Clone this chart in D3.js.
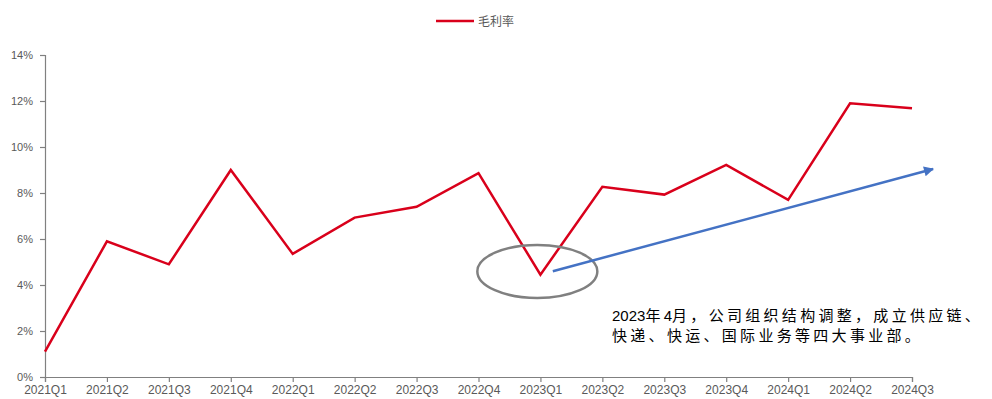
<!DOCTYPE html>
<html>
<head>
<meta charset="utf-8">
<script src="https://cdn.jsdelivr.net/npm/d3@7/dist/d3.min.js"></script>
<style>
  body { margin: 0; background: #fff; }
  svg text { font-family: "Liberation Sans", Arial, sans-serif; }
</style>
</head>
<body>
<div id="chart"></div>
<script>
//------------------------------------------------------------------------ Data
var quarters = ["2021Q1","2021Q2","2021Q3","2021Q4","2022Q1","2022Q2","2022Q3","2022Q4",
                "2023Q1","2023Q2","2023Q3","2023Q4","2024Q1","2024Q2","2024Q3"];
var grossMargin = [1.1, 5.9, 4.9, 9.0, 5.35, 6.93, 7.4, 8.86, 4.45, 8.27, 7.93, 9.22, 7.7, 11.9, 11.68];
var yTicks = [0, 2, 4, 6, 8, 10, 12, 14];
var seriesName = "毛利率";
var noteLines = ["2023年4月，公司组织结构调整，成立供应链、", "快递、快运、国际业务等四大事业部。"];

//------------------------------------------------------------------------ Layout
var W = 992, H = 399;
var margin = {top: 55, right: 80, bottom: 22, left: 45},
    width = 912 - margin.left,
    height = 377 - margin.top;

var colLine = "#d9001b";
var colArrow = "#4472c4";
var colAxis = "#808080";
var colText = "#595959";

var svg = d3.select("#chart").append("svg")
  .attr("width", W)
  .attr("height", H);

var g = svg.append("g")
  .attr("transform", "translate(" + margin.left + "," + margin.top + ")");

var x = d3.scaleLinear().domain([0, quarters.length - 1]).range([0, width]);
var y = d3.scaleLinear().domain([0, 14]).range([height, 0]);

//------------------------------------------------------------------------ Axes
var yAxis = g.append("g")
  .call(d3.axisLeft(y).tickValues(yTicks).tickSize(5).tickPadding(7)
    .tickFormat(function(d){ return d + "%"; }));
yAxis.selectAll("text").attr("font-size", "11px").attr("fill", colText);

var xAxis = g.append("g")
  .attr("transform", "translate(0," + height + ")")
  .call(d3.axisBottom(x).tickValues(d3.range(quarters.length)).tickSize(5).tickPadding(3)
    .tickFormat(function(d){ return quarters[d]; }));
xAxis.selectAll("text").attr("font-size", "12px").attr("fill", colText);

[yAxis, xAxis].forEach(function(a){
  a.select(".domain").attr("stroke", colAxis).attr("stroke-width", 1.2);
  a.selectAll(".tick line").attr("stroke", colAxis).attr("stroke-width", 1.2);
});

//------------------------------------------------------------------------ Line
var line = d3.line()
  .x(function(d, i){ return x(i); })
  .y(function(d){ return y(d); });

g.append("path")
  .datum(grossMargin)
  .attr("fill", "none")
  .attr("stroke", colLine)
  .attr("stroke-width", 2.5)
  .attr("stroke-linejoin", "miter")
  .attr("d", line);

//------------------------------------------------------------------------ Annotation
// ellipse round the 2023Q1 dip
g.append("ellipse")
  .attr("cx", x(7.95))
  .attr("cy", y(4.59))
  .attr("rx", 60)
  .attr("ry", 26.5)
  .attr("fill", "none")
  .attr("stroke", "#808080")
  .attr("stroke-width", 2.5);

// trend arrow
svg.append("defs").append("marker")
  .attr("id", "arrowhead")
  .attr("viewBox", "0 0 10 10")
  .attr("refX", 9).attr("refY", 5)
  .attr("markerWidth", 4.5).attr("markerHeight", 4)
  .attr("orient", "auto")
  .append("path")
  .attr("d", "M0,0 L10,5 L0,10 z")
  .attr("fill", colArrow);

g.append("line")
  .attr("x1", x(8.2)).attr("y1", y(4.6))
  .attr("x2", x(14.34)).attr("y2", y(9.04))
  .attr("stroke", colArrow)
  .attr("stroke-width", 2.5)
  .attr("marker-end", "url(#arrowhead)");

// note text: digits tight, CJK chars spaced wide
var note = svg.append("text")
  .attr("font-size", "15px")
  .attr("fill", "#000");
noteLines.forEach(function(t, i){
  var parts = t.split(/(\d+)/).filter(function(s){ return s.length; });
  parts.forEach(function(p, j){
    var isNum = /^\d+$/.test(p);
    var ts = note.append("tspan").text(p)
      .attr("letter-spacing", isNum ? "0px" : "3.3px")
      .style("font-family", isNum ? "'Liberation Sans', Arial, sans-serif" : "'Noto Sans CJK SC', sans-serif");
    if (j === 0) ts.attr("x", 612).attr("y", 321 + i * 20);
  });
});

//------------------------------------------------------------------------ Legend
var legend = svg.append("g").attr("transform", "translate(436,21)");
legend.append("line")
  .attr("x1", 0).attr("x2", 38)
  .attr("stroke", colLine).attr("stroke-width", 2.5);
legend.append("text")
  .attr("x", 42).attr("y", 4.5)
  .attr("font-size", "12px")
  .attr("fill", colText)
  .style("font-family", "'Noto Sans CJK SC', sans-serif")
  .text(seriesName);
</script>
</body>
</html>
